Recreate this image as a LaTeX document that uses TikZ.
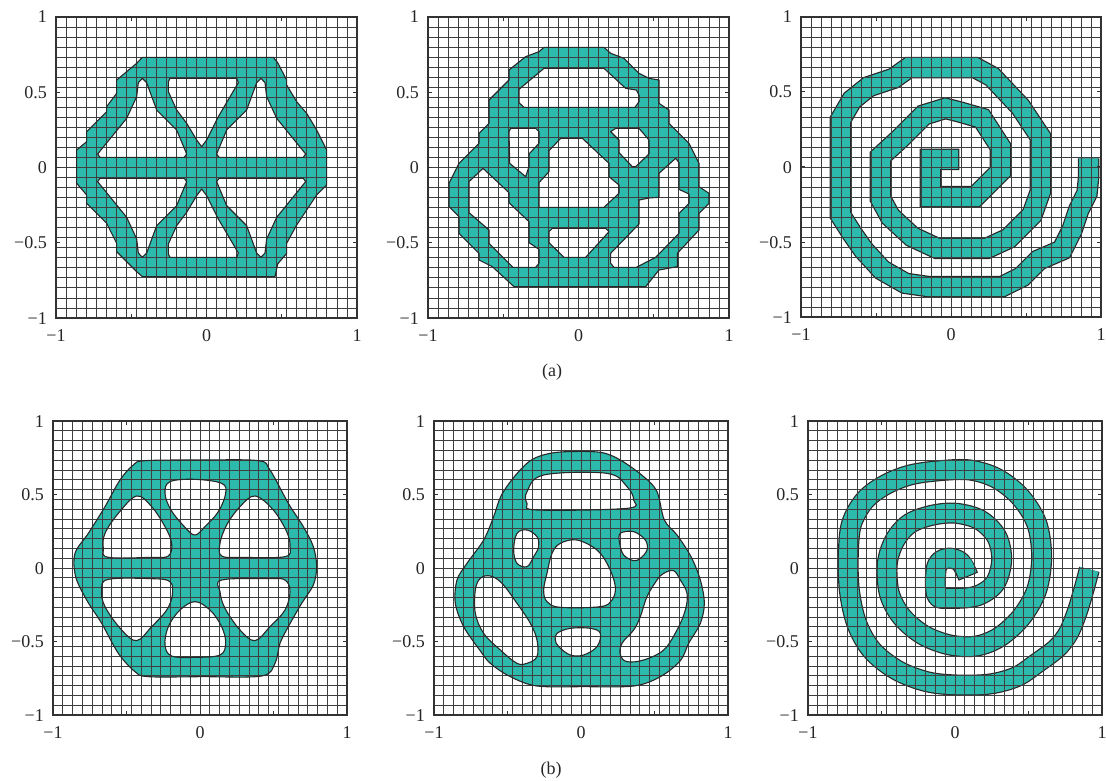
\documentclass[tikz,border=0pt]{standalone}
\usepackage{fontspec}
\setmainfont{Liberation Serif}
\definecolor{teal1}{RGB}{44,186,172}
\definecolor{lineclr}{RGB}{40,40,40}
\definecolor{gridclr}{RGB}{62,62,62}
\definecolor{frameclr}{RGB}{50,50,50}
\tikzset{
  gridln/.style={draw=gridclr, line width=0.85pt},
  frameln/.style={draw=frameclr, line width=1.5pt},
  tickln/.style={draw=frameclr, line width=1pt},
  shapeln/.style={draw=lineclr, line width=1.1pt, line join=round},
  shapefill/.style={fill=teal1, even odd rule},
  ticklbl/.style={font=\fontsize{18}{21}\selectfont, inner sep=0pt, text=black!85},
  zoomA/.style={x=0.33333pt, y=-0.33333pt},
}
\newcommand\panelgrid[3]{%
  \foreach \k in {1,...,29}{
    \draw[gridln] ({#1+\k*#3/30},#2) -- ({#1+\k*#3/30},{#2+#3});
    \draw[gridln] (#1,{#2+\k*#3/30}) -- ({#1+#3},{#2+\k*#3/30});
  }
  \draw[frameln] (#1,#2) rectangle ({#1+#3},{#2+#3});
  \foreach \k in {1,2,3}{
    \draw[tickln] ({#1+\k*#3/4},{#2+#3}) -- ++(0,-4);
    \draw[tickln] ({#1+\k*#3/4},#2) -- ++(0,4);
    \draw[tickln] (#1,{#2+\k*#3/4}) -- ++(4,0);
    \draw[tickln] ({#1+#3},{#2+\k*#3/4}) -- ++(-4,0);
  }
  \foreach \k/\t in {0/1,1/0.5,2/0,3/−0.5,4/−1}{
    \node[ticklbl, anchor=base east] (yl#1x\k) at ({#1-9},{#2+\k*#3/4+6}) {\t};
  }
  \foreach \k/\t in {0/−1,1/0,2/1}{
    \node[ticklbl, anchor=base] (xl#1x\k) at ({#1+\k*#3/2},{#2+#3+23}) {\t};
  }
}
% ---------- top panel 1 ----------
\def\pTa{(262,142) -- (655,142) -- (668,158) -- (695,210) -- (695,225) -- (725,275) -- (755,310) -- (785,360) -- (815,420) -- (815,525) -- (785,555) -- (755,600) -- (725,645) -- (695,700) -- (695,730) -- (668,762) -- (660,800) -- (262,800) -- (245,785) -- (185,725) -- (185,700) -- (155,640) -- (95,580) -- (95,555) -- (65,520) -- (65,420) -- (95,395) -- (95,365) -- (155,305) -- (155,290) -- (185,250) -- (185,210) -- (245,160) -- cycle
(345,205) -- (545,205) -- (550,218) -- (490,320) -- (455,390) -- (440,410) -- (425,390) -- (395,340) -- (365,300) -- (340,245) -- (340,215) -- cycle
(262,205) -- (275,218) -- (305,300) -- (365,360) -- (395,432) -- (388,442) -- (135,442) -- (128,432) -- (215,325) -- (245,260) -- (250,218) -- cycle
(618,205) -- (630,218) -- (635,260) -- (665,325) -- (752,432) -- (745,442) -- (492,442) -- (485,432) -- (515,360) -- (575,300) -- (605,218) -- cycle
(262,742) -- (250,729) -- (245,687) -- (215,622) -- (128,515) -- (135,505) -- (388,505) -- (395,515) -- (365,587) -- (305,647) -- (275,729) -- cycle
(618,742) -- (630,729) -- (635,687) -- (665,622) -- (752,515) -- (745,505) -- (492,505) -- (485,515) -- (515,587) -- (575,647) -- (605,729) -- cycle
(345,742) -- (545,742) -- (550,729) -- (490,627) -- (455,557) -- (440,537) -- (425,557) -- (395,607) -- (365,647) -- (340,702) -- (340,732) -- cycle}
% ---------- top panel 2 ----------
\def\pTb{(345,142) -- (525,142) -- (545,160) -- (585,175) -- (630,220) -- (660,235) -- (690,240) -- (690,310) -- (720,330) -- (720,370) -- (780,430) -- (810,490) -- (810,560) -- (840,580) -- (840,610) -- (810,640) -- (810,690) -- (745,760) -- (745,800) -- (690,810) -- (650,860) -- (255,860) -- (190,800) -- (150,780) -- (150,760) -- (90,700) -- (90,650) -- (60,620) -- (60,550) -- (90,490) -- (150,430) -- (150,400) -- (180,370) -- (180,300) -- (240,240) -- (240,210) -- (290,170) -- (330,155) -- cycle
(345,205) -- (525,205) -- (590,265) -- (622,270) -- (630,285) -- (630,305) -- (618,322) -- (285,322) -- (270,308) -- (270,268) -- cycle
(245,385) -- (320,385) -- (330,395) -- (330,430) -- (300,462) -- (300,500) -- (290,530) -- (242,490) -- (240,395) -- cycle
(545,395) -- (560,385) -- (630,385) -- (660,420) -- (660,462) -- (620,500) -- (610,500) -- (570,458) -- (570,420) -- cycle
(395,415) -- (460,415) -- (540,490) -- (540,530) -- (570,555) -- (570,580) -- (525,622) -- (330,622) -- (330,548) -- (360,515) -- (360,452) -- cycle
(370,685) -- (530,685) -- (540,695) -- (470,772) -- (405,772) -- (360,728) -- (360,695) -- cycle
(162,505) -- (240,578) -- (240,608) -- (300,665) -- (300,728) -- (330,748) -- (330,790) -- (320,802) -- (252,802) -- (180,730) -- (180,690) -- (120,638) -- (120,545) -- cycle
(740,475) -- (750,488) -- (750,568) -- (780,582) -- (780,610) -- (750,640) -- (750,700) -- (680,772) -- (622,802) -- (555,802) -- (545,790) -- (545,760) -- (630,672) -- (630,600) -- (660,594) -- (690,592) -- (690,520) -- cycle}
% ---------- top panel 3 (spiral centre line) ----------
\def\pTc{(472,478) -- (385,478) -- (385,590) -- (520,590) -- (595,515) -- (595,440) -- (540,355) -- (470,335) -- (430,325) -- (365,345) -- (295,415) -- (235,470) -- (235,595) -- (265,650) -- (330,710) -- (405,745) -- (555,745) -- (620,715) -- (690,645) -- (715,575) -- (715,410) -- (655,320) -- (570,230) -- (520,203) -- (320,203) -- (275,235) -- (200,260) -- (150,300) -- (115,360) -- (115,645) -- (150,700) -- (185,750) -- (240,810) -- (310,850) -- (380,860) -- (600,860) -- (660,830) -- (710,780) -- (780,750) -- (810,690) -- (830,630) -- (855,580) -- (860,530) -- (860,475)}
% ---------- bottom panel 1 ----------
\def\pBa{plot[smooth cycle, tension=0.55] coordinates {(270,152) (440,150) (610,152) (645,180) (700,280) (745,350) (775,410) (785,470) (775,525) (740,580) (700,650) (675,700) (660,760) (620,798) (440,800) (280,800) (240,785) (190,730) (140,640) (95,570) (62,500) (60,430) (100,370) (150,290) (195,210) (235,165)}
plot[smooth cycle, tension=0.6] coordinates {(345,215) (420,208) (500,220) (512,250) (490,305) (450,350) (420,375) (390,352) (348,300) (330,250)}
plot[smooth cycle, tension=0.6] coordinates {(245,258) (290,290) (330,350) (350,400) (340,438) (290,442) (160,442) (145,415) (150,370) (190,310)}
plot[smooth cycle, tension=0.6] coordinates {(600,258) (655,300) (695,365) (705,410) (690,440) (560,442) (500,438) (495,400) (515,345) (555,290)}
plot[smooth cycle, tension=0.6] coordinates {(160,508) (290,506) (345,515) (352,555) (335,600) (290,650) (245,692) (200,660) (150,590) (140,540)}
plot[smooth cycle, tension=0.6] coordinates {(500,510) (640,506) (690,510) (705,545) (690,600) (645,650) (600,692) (555,660) (510,595) (495,545)}
plot[smooth cycle, tension=0.6] coordinates {(420,575) (465,600) (500,650) (512,700) (495,735) (420,742) (350,738) (330,705) (340,650) (375,600)}}
% ---------- bottom panel 2 ----------
\def\pBb{plot[smooth cycle, tension=0.55] coordinates {(420,125) (520,127) (580,150) (650,200) (690,245) (712,330) (750,375) (792,440) (820,510) (832,580) (820,640) (785,700) (760,752) (700,800) (620,828) (470,830) (330,828) (250,800) (190,760) (158,720) (110,650) (85,580) (90,510) (120,460) (170,390) (200,320) (222,258) (262,200) (310,152) (360,132)}
plot[smooth cycle, tension=0.6] coordinates {(300,245) (350,195) (540,190) (600,230) (620,270) (600,295) (330,300) (300,280)}
plot[smooth cycle, tension=0.6] coordinates {(270,370) (300,360) (330,380) (335,410) (320,440) (300,470) (270,460) (260,420)}
plot[smooth cycle, tension=0.6] coordinates {(580,370) (620,365) (655,390) (660,420) (640,445) (620,452) (590,435) (578,400)}
plot[smooth cycle, tension=0.6] coordinates {(400,400) (450,390) (510,420) (545,470) (565,530) (555,570) (520,590) (400,592) (360,575) (350,540) (360,490) (375,430)}
plot[smooth cycle, tension=0.6] coordinates {(390,670) (430,655) (490,655) (520,670) (510,710) (470,735) (430,735) (395,710) (385,690)}
plot[smooth cycle, tension=0.6] coordinates {(160,505) (190,498) (225,520) (270,580) (310,640) (330,690) (330,740) (300,760) (270,760) (220,720) (170,670) (145,610) (145,540)}
plot[smooth cycle, tension=0.6] coordinates {(710,490) (740,482) (760,510) (780,550) (775,600) (750,660) (710,720) (650,750) (600,755) (580,735) (585,700) (620,660) (640,620) (660,560) (690,510)}}
% ---------- bottom panel 3 (spiral centre line) ----------
\def\pBc{plot[smooth, tension=0.55] coordinates {(505,500) (480,455) (440,445) (410,470) (410,555) (450,565) (530,558) (585,520) (605,450) (590,380) (540,330) (470,310) (400,315) (330,340) (285,390) (262,460) (268,550) (305,620) (370,675) (450,705) (530,708) (600,680) (665,620) (710,540) (725,440) (710,340) (660,260) (590,205) (510,180) (420,182) (330,195) (255,225) (195,270) (155,340) (145,430) (148,540) (170,640) (215,720) (290,780) (380,815) (470,825) (570,822) (650,800) (710,760) (770,715) (805,670) (830,610) (850,545) (868,478)}}
\begin{document}
\begin{tikzpicture}[x=1pt,y=-1pt]
\useasboundingbox (0,0) rectangle (1106,781);
\fill[white] (0,0) rectangle (1106,781);
% ===== top row =====
\begin{scope}[shift={(55,10)},zoomA]
  \path[shapefill] \pTa;
\end{scope}
\panelgrid{56}{17}{301}
\begin{scope}[shift={(55,10)},zoomA]
  \path[shapeln] \pTa;
\end{scope}

\begin{scope}[shift={(429,0)},zoomA]
  \path[shapefill] \pTb;
\end{scope}
\panelgrid{428}{17}{301}
\begin{scope}[shift={(429,0)},zoomA]
  \path[shapeln] \pTb;
\end{scope}

\begin{scope}[shift={(802,0)},zoomA]
  \draw[line width=21.5pt, draw=lineclr, line join=miter] \pTc;
  \draw[line width=19pt, draw=teal1, line join=miter, shorten <=1.2pt] \pTc;
\end{scope}
\panelgrid{801}{17}{300}

\node[ticklbl] (capa) at (552,372) {(a)};

% ===== bottom row =====
\begin{scope}[shift={(55,410)},zoomA]
  \path[shapefill] \pBa;
\end{scope}
\panelgrid{53}{421}{294}
\begin{scope}[shift={(55,410)},zoomA]
  \path[shapeln] \pBa;
\end{scope}

\begin{scope}[shift={(427,410)},zoomA]
  \path[shapefill] \pBb;
\end{scope}
\panelgrid{434}{421}{294}
\begin{scope}[shift={(427,410)},zoomA]
  \path[shapeln] \pBb;
\end{scope}

\begin{scope}[shift={(800,410)},zoomA]
  \draw[line width=21pt, draw=lineclr, line join=round] \pBc;
  \draw[line width=18.6pt, draw=teal1, line join=round, shorten <=1.2pt] \pBc;
\end{scope}
\panelgrid{808}{421}{294}

\node[ticklbl] (capb) at (551,770) {(b)};
\end{tikzpicture}
\end{document}
